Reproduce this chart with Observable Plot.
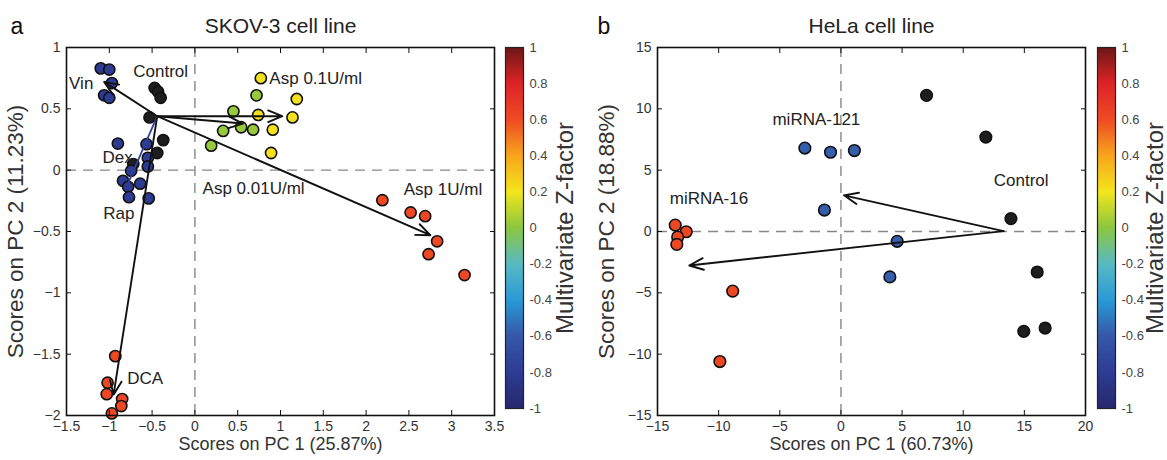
<!DOCTYPE html>
<html><head><meta charset="utf-8">
<script src="https://cdn.jsdelivr.net/npm/d3@7"></script>
<script src="https://cdn.jsdelivr.net/npm/@observablehq/plot@0.6"></script>
<style>
body{margin:0;background:#fff;}
#wrap{position:relative;width:1167px;height:460px;overflow:hidden;background:#fff;}
#wrap svg{position:absolute;top:0;font-family:"Liberation Sans",Arial,sans-serif;}
</style></head><body><div id="wrap"></div>
<script>
// ---------- colour bar (Multivariate Z-factor) ----------
const zStops  = [-1, -0.8, -0.6, -0.4, -0.2, 0, 0.2, 0.4, 0.6, 0.8, 1];
const zColors = ["#26286e","#2d3c92","#3657a8","#2a9ad6","#58b9c4","#8cc63f","#f3e61c","#f8a51c","#f04b24","#de2327","#6e1717"];
const zTicks  = [-1, -0.8, -0.6, -0.4, -0.2, 0, 0.2, 0.4, 0.6, 0.8, 1];

// ---------- panel a: SKOV-3 ----------
const skovXTicks = [-1.5, -1, -0.5, 0, 0.5, 1, 1.5, 2, 2.5, 3, 3.5];
const skovYTicks = [-2, -1.5, -1, -0.5, 0, 0.5, 1];
const skovControl = [[-0.47,0.67],[-0.43,0.64],[-0.40,0.59],[-0.53,0.43],[-0.37,0.245],[-0.44,0.14],[-0.72,0.05]];
const skovVin     = [[-1.10,0.83],[-1.00,0.82],[-0.97,0.71],[-1.06,0.61],[-1.00,0.59]];
const skovDexRap  = [[-0.90,0.217],[-0.565,0.212],[-0.55,0.10],[-0.55,0.03],[-0.745,-0.005],[-0.84,-0.087],[-0.78,-0.136],[-0.64,-0.11],[-0.77,-0.22],[-0.54,-0.23]];
const skovAsp001  = [[0.72,0.61],[0.45,0.48],[0.54,0.35],[0.68,0.33],[0.33,0.32],[0.19,0.20]];
const skovAsp01   = [[0.77,0.75],[1.19,0.58],[1.14,0.43],[0.74,0.45],[0.91,0.33],[0.89,0.14]];
const skovAsp1    = [[2.19,-0.245],[2.52,-0.345],[2.69,-0.375],[2.83,-0.58],[2.73,-0.685],[3.15,-0.855]];
const skovDCA     = [[-0.93,-1.516],[-1.02,-1.733],[-1.03,-1.826],[-0.85,-1.866],[-0.86,-1.923],[-0.97,-1.983]];
const skovZ = {vin: -0.8, dexrap: -0.8, asp001: 0.02, asp01: 0.22, asp1: 0.62, dca: 0.62};
const skovOrigin = [-0.44, 0.44];
const skovArrowTo = [[-1.06,0.72],[1.02,0.44],[0.56,0.38],[2.75,-0.53],[-0.95,-1.83]];
const skovBlueTo = [-0.78,-0.105];
const skovLabels = ["Vin","Control","Asp 0.1U/ml","Dex","Rap","Asp 0.01U/ml","Asp 1U/ml","DCA"];
const skovLabelX = [-1.47,-0.72,0.87,-1.08,-1.07,0.09,2.44,-0.79];
const skovLabelY = [0.71,0.80,0.75,0.10,-0.35,-0.15,-0.16,-1.70];

// ---------- panel b: HeLa ----------
const helaXTicks = [-15, -10, -5, 0, 5, 10, 15, 20];
const helaYTicks = [-15, -10, -5, 0, 5, 10, 15];
const helaControl = [[7.0,11.1],[11.85,7.7],[13.9,1.05],[16.05,-3.3],[14.95,-8.14],[16.7,-7.87]];
const helaMi121   = [[-2.95,6.8],[-0.85,6.46],[1.1,6.6],[-1.35,1.75],[4.6,-0.8],[4.0,-3.7]];
const helaMi16    = [[-13.55,0.52],[-12.65,-0.02],[-13.35,-0.45],[-13.42,-1.05],[-8.85,-4.86],[-9.9,-10.6]];
const helaZ = {mi121: -0.58, mi16: 0.62};
const helaOrigin = [13.3, 0.03];
const helaArrowTo = [[0.25,2.95],[-12.4,-2.77]];
const helaLabels = ["miRNA-121","miRNA-16","Control"];
const helaLabelX = [-5.6,-14.0,12.5];
const helaLabelY = [9.1,2.7,4.15];

const FONT = "Liberation Sans, Arial, sans-serif";
const colorScale = {type: "linear", domain: zStops, range: zColors};
const fmtAxis = d => (d < 0 ? "\u2212" : "") + String(Math.abs(d));

function inwardAxes(xTicks, yTicks) {
  const common = {tickFormat: () => "", label: null, tickSize: 5, stroke: "#111"};
  return [
    Plot.axisX({...common, anchor: "bottom", ticks: xTicks, dy: -5}),
    Plot.axisX({...common, anchor: "top", ticks: xTicks, dy: 5}),
    Plot.axisY({...common, anchor: "left", ticks: yTicks, dx: 5}),
    Plot.axisY({...common, anchor: "right", ticks: yTicks, dx: -5}),
    Plot.axisX({anchor: "bottom", ticks: xTicks, tickSize: 0, tickPadding: 6, fontSize: 14, fill: "#333", label: null, tickFormat: fmtAxis}),
    Plot.axisY({anchor: "left", ticks: yTicks, tickSize: 0, tickPadding: 6, fontSize: 14, fill: "#333", label: null, tickFormat: fmtAxis})
  ];
}

function dots(arr, fill, r) {
  return Plot.dot(arr, {x: d => d[0], y: d => d[1], r, fill, stroke: "#111", strokeWidth: 1.6});
}

function scatterPanel(cfg) {
  const arrows = cfg.arrowTo.map(t => ({x1: cfg.origin[0], y1: cfg.origin[1], x2: t[0], y2: t[1]}));
  const labels = cfg.labels.map((t, i) => ({text: t, x: cfg.labelX[i], y: cfg.labelY[i]}));
  const p = Plot.plot({
    width: 500, height: 460,
    marginLeft: cfg.marginLeft, marginRight: 500 - cfg.marginLeft - 428, marginTop: 47, marginBottom: 45,
    style: {fontFamily: FONT, background: "transparent", overflow: "visible"},
    x: {domain: cfg.xDomain},
    y: {domain: cfg.yDomain},
    color: colorScale,
    marks: [
      Plot.ruleX([0], {stroke: "#888", strokeWidth: 1.4, strokeDasharray: "10,7"}),
      Plot.ruleY([0], {stroke: "#888", strokeWidth: 1.4, strokeDasharray: "10,7"}),
      ...cfg.dotMarks,
      ...(cfg.blueTo ? [Plot.link([{x1: cfg.origin[0], y1: cfg.origin[1], x2: cfg.blueTo[0], y2: cfg.blueTo[1]}],
          {x1: "x1", y1: "y1", x2: "x2", y2: "y2", stroke: "#2f3ea0", strokeWidth: 1.8})] : []),
      Plot.arrow(arrows, {x1: "x1", y1: "y1", x2: "x2", y2: "y2", stroke: "#111", strokeWidth: 1.9, headLength: 12, headAngle: 45}),
      Plot.text(labels, {x: "x", y: "y", text: "text", textAnchor: "start", fontSize: 17, fill: "#222"}),
      Plot.frame({stroke: "#111", strokeWidth: 1.6}),
      ...inwardAxes(cfg.xTicks, cfg.yTicks),
      Plot.text([cfg.title], {frameAnchor: "top", dy: -29, fontSize: 21, fill: "#222"}),
      Plot.text([cfg.letter], {frameAnchor: "top-left", dx: cfg.letterDx, dy: -30, fontSize: 23, fill: "#111", textAnchor: "start"}),
      Plot.text([cfg.xLabel], {frameAnchor: "bottom", dy: 34, fontSize: 18, fill: "#333"}),
      Plot.text([cfg.yLabel], {frameAnchor: "left", textAnchor: "middle", rotate: -90, dx: -51, fontSize: 22.5, fill: "#333"})
    ]
  });
  p.style.left = cfg.left + "px";
  return p;
}

function colorBar(left, width, titleDx) {
  const p = Plot.plot({
    width, height: 460,
    marginLeft: 15, marginRight: width - 33, marginTop: 47, marginBottom: 52,
    style: {fontFamily: FONT, background: "transparent", overflow: "visible"},
    x: {domain: [0, 1], axis: null},
    y: {domain: [-1, 1], axis: null},
    color: colorScale,
    marks: [
      Plot.raster({x1: 0, x2: 1, y1: -1, y2: 1, width: 2, height: 360, fill: (x, y) => y, imageRendering: "auto"}),
      Plot.frame({stroke: "#222", strokeWidth: 1.2}),
      Plot.axisY({anchor: "right", ticks: zTicks, tickSize: 0, tickPadding: 6, fontSize: 13, fill: "#444",
                  tickFormat: d => String(d), label: null}),
      Plot.text(["Multivariate Z-factor"], {frameAnchor: "right", textAnchor: "middle", rotate: -90, dx: titleDx, fontSize: 24, fill: "#333"})
    ]
  });
  p.style.left = left + "px";
  return p;
}

const wrap = document.getElementById("wrap");

wrap.appendChild(scatterPanel({
  left: 0, marginLeft: 66,
  xDomain: [-1.5, 3.5], yDomain: [-2, 1], xTicks: skovXTicks, yTicks: skovYTicks,
  origin: skovOrigin, arrowTo: skovArrowTo, blueTo: skovBlueTo,
  labels: skovLabels, labelX: skovLabelX, labelY: skovLabelY,
  title: "SKOV-3 cell line", letter: "a", letterDx: -56,
  xLabel: "Scores on PC 1 (25.87%)", yLabel: "Scores on PC 2 (11.23%)",
  dotMarks: [
    dots(skovControl, "#1e1e1e", 5.6),
    dots(skovVin, () => skovZ.vin, 5.6),
    dots(skovDexRap, () => skovZ.dexrap, 5.6),
    dots(skovAsp001, () => skovZ.asp001, 5.6),
    dots(skovAsp01, () => skovZ.asp01, 5.6),
    dots(skovAsp1, () => skovZ.asp1, 5.6),
    dots(skovDCA, () => skovZ.dca, 5.6)
  ]
}));

wrap.appendChild(colorBar(490, 100, 42));

wrap.appendChild(scatterPanel({
  left: 590, marginLeft: 67,
  xDomain: [-15, 20], yDomain: [-15, 15], xTicks: helaXTicks, yTicks: helaYTicks,
  origin: helaOrigin, arrowTo: helaArrowTo, blueTo: null,
  labels: helaLabels, labelX: helaLabelX, labelY: helaLabelY,
  title: "HeLa cell line", letter: "b", letterDx: -60,
  xLabel: "Scores on PC 1 (60.73%)", yLabel: "Scores on PC 2 (18.88%)",
  dotMarks: [
    dots(helaControl, "#1e1e1e", 5.8),
    dots(helaMi121, () => helaZ.mi121, 5.8),
    dots(helaMi16, () => helaZ.mi16, 5.8)
  ]
}));

wrap.appendChild(colorBar(1082, 85, 40));
</script></body></html>
